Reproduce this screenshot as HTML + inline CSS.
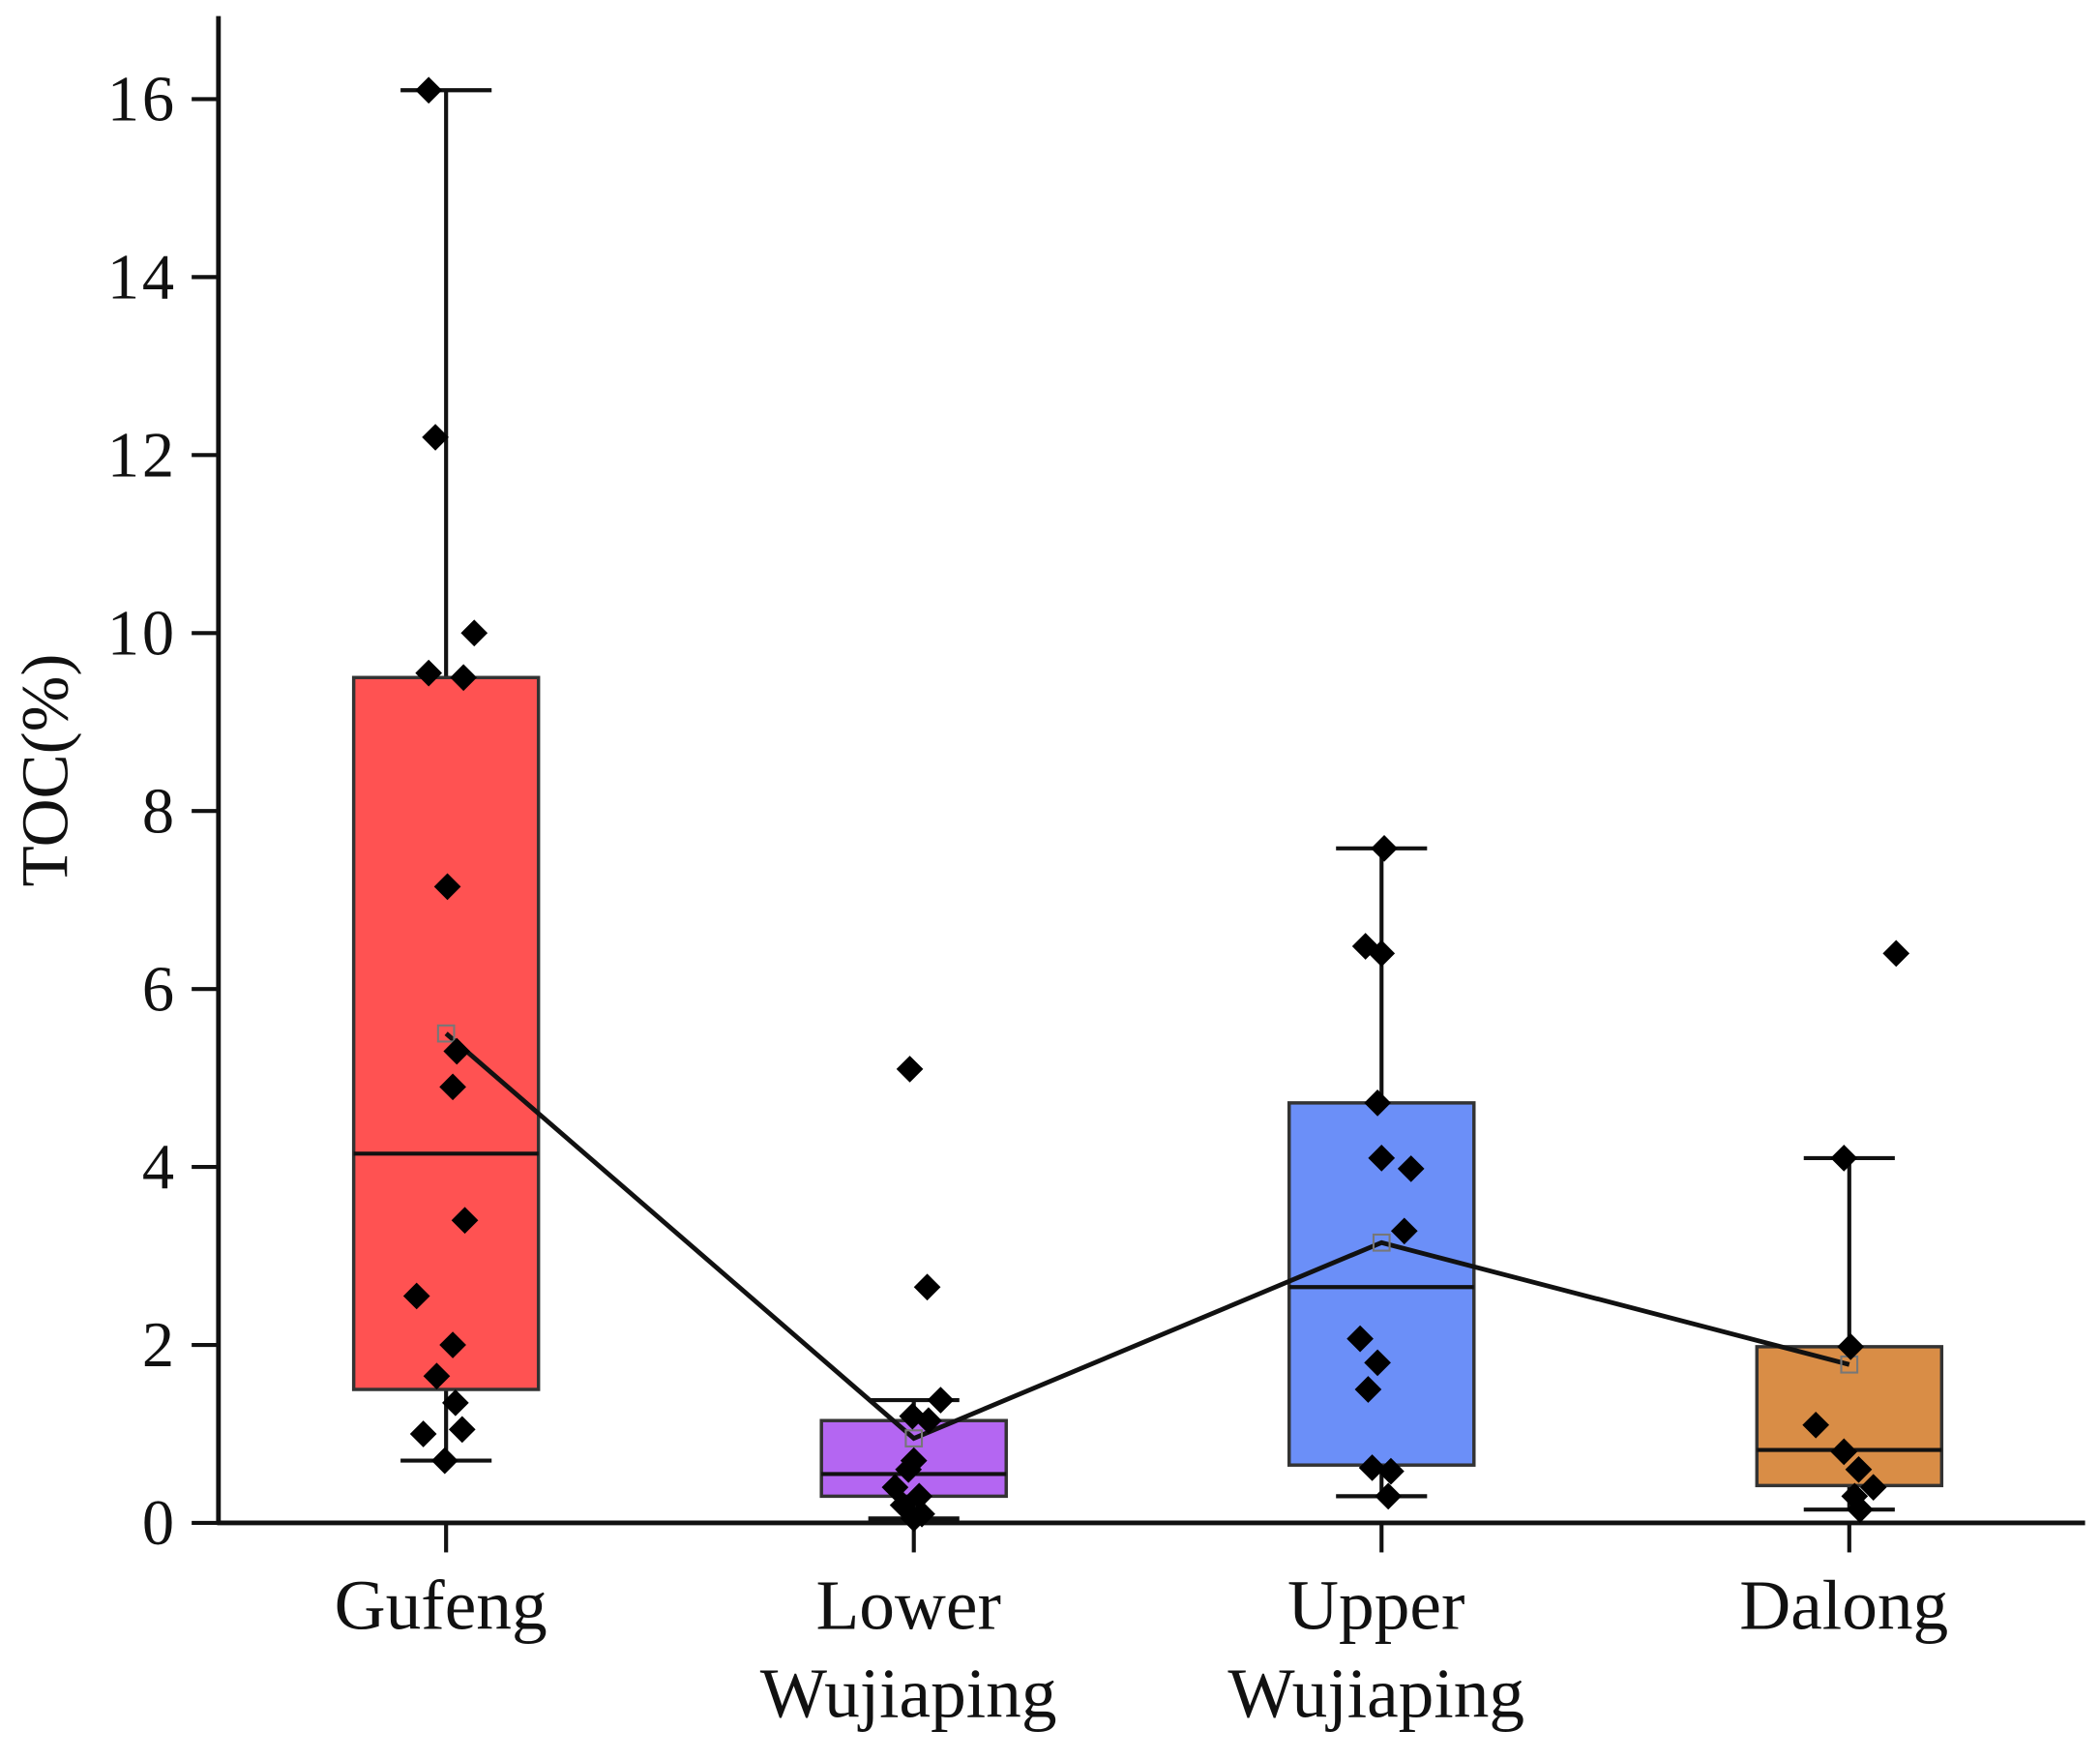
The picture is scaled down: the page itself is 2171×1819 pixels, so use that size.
<!DOCTYPE html>
<html><head><meta charset="utf-8"><style>
html,body{margin:0;padding:0;background:#fff}
svg{display:block}
text{font-family:"Liberation Serif",serif;fill:#111}
</style></head><body>
<svg id="chart" width="2171" height="1819" viewBox="0 0 1568 1314" xmlns="http://www.w3.org/2000/svg"></svg>
<script>
const categories = ["Gufeng", "Lower|Wujiaping", "Upper|Wujiaping", "Dalong"];
const colors = ["#ff5252", "#b466f2", "#6b8ff8", "#d98d46"];
const q1 = [1.5, 0.3, 0.65, 0.42];
const q3 = [9.5, 1.15, 4.72, 1.98];
const medians = [4.15, 0.55, 2.65, 0.82];
const whiskLow = [0.7, 0.05, 0.3, 0.15];
const whiskHigh = [16.1, 1.38, 7.58, 4.1];
const means = [5.5, 0.95, 3.15, 1.78];
const ptsGufeng = [16.1,12.2,10.0,9.55,9.5,7.15,5.3,4.9,3.4,2.55,2.0,1.65,1.35,1.0,1.05,0.7];
const jitGufeng = [-13,-8,21,-13,13,1,8,5,14,-22,5,-7,7,-17,12,-1];
const ptsLower = [5.1,2.65,1.38,1.2,1.15,0.7,0.6,0.4,0.3,0.2,0.1,0.05];
const jitLower = [-3,10,20,-1,11,0,-4,-14,4,-8,6,0];
const ptsUpper = [7.58,6.48,6.4,4.72,4.1,3.98,3.28,2.07,1.8,1.5,0.62,0.58,0.3];
const jitUpper = [2,-12,0,-3,0,22,17,-16,-3,-10,-7,7,5];
const ptsDalong = [6.4,4.1,1.98,1.1,0.8,0.6,0.4,0.3,0.15];
const jitDalong = [35,-4,1,-25,-4,7,18,4,8];
const yTicks = [0,2,4,6,8,10,12,14,16];

const points = [ptsGufeng, ptsLower, ptsUpper, ptsDalong];
const jitter = [jitGufeng, jitLower, jitUpper, jitDalong];
const NS = "http://www.w3.org/2000/svg";
const svg = document.getElementById("chart");
const X0 = 163, XR = 1557, Y0 = 1137, YTOP = 12;
const y = v => Y0 - v * (1063 / 16);
const x = i => 333 + i * 349.3;
const BW = 138;
function el(tag, attrs, parent) {
  const e = document.createElementNS(NS, tag);
  for (const k in attrs) e.setAttribute(k, attrs[k]);
  (parent || svg).appendChild(e);
  return e;
}
let a = el("line", {x1:X0, y1:YTOP, x2:X0, y2:Y0+1.5, stroke:"#111", "stroke-width":3.5});


a = el("line", {x1:X0-1, y1:Y0, x2:XR, y2:Y0, stroke:"#111", "stroke-width":3.5});


yTicks.forEach(t => {
  const tk = el("line", {x1:X0-20, y1:y(t), x2:X0, y2:y(t), stroke:"#111", "stroke-width":3});
  
  
  const tl = el("text", {x:X0-31, y:y(t)+16, "text-anchor":"end", "font-size":48, "letter-spacing":"2"});
  tl.textContent = t;
  
  
});
const yt = el("text", {x:0, y:0, transform:"translate(50,575) rotate(-90)", "text-anchor":"middle", "font-size":50});
yt.textContent = "TOC(%)";



categories.forEach((c, i) => {
  const cx = x(i);
  const g = el("g", {});
  
  
  const tk = el("line", {x1:cx, y1:Y0, x2:cx, y2:Y0+22, stroke:"#111", "stroke-width":3}, g);
  
  
  el("line", {x1:cx, y1:y(whiskLow[i]), x2:cx, y2:y(whiskHigh[i]), stroke:"#111", "stroke-width":3}, g);
  el("line", {x1:cx-34, y1:y(whiskHigh[i]), x2:cx+34, y2:y(whiskHigh[i]), stroke:"#111", "stroke-width":3}, g);
  el("line", {x1:cx-34, y1:y(whiskLow[i]), x2:cx+34, y2:y(whiskLow[i]), stroke:"#111", "stroke-width":3}, g);
  el("rect", {x:cx-BW/2, y:y(q3[i]), width:BW, height:y(q1[i])-y(q3[i]), fill:colors[i], stroke:"#333", "stroke-width":2.5}, g);
  el("line", {x1:cx-BW/2, y1:y(medians[i]), x2:cx+BW/2, y2:y(medians[i]), stroke:"#111", "stroke-width":3}, g);
  const parts = c.split("|");
  parts.forEach((p, k) => {
    const t = el("text", {x:cx-4, y:1216 + k*66, "text-anchor":"middle", "font-size":53}, g);
    t.textContent = p;
    
    
  });
});
const mp = means.map((m, i) => x(i) + "," + y(m)).join(" ");
const ml = el("polyline", {points:mp, fill:"none", stroke:"#111", "stroke-width":3.5});


means.forEach((m, i) => {
  const r = el("rect", {x:x(i)-6, y:y(m)-6, width:12, height:12, fill:"none", stroke:"#777", "stroke-width":1.5});
  
  
});
points.forEach((arr, i) => {
  arr.forEach((v, k) => {
    const px = x(i) + jitter[i][k], py = y(v), s = 10;
    const d = el("polygon", {points:`${px},${py-s} ${px+s},${py} ${px},${py+s} ${px-s},${py}`, fill:"#000"});
    
    
  });
});
</script>
</body></html>
